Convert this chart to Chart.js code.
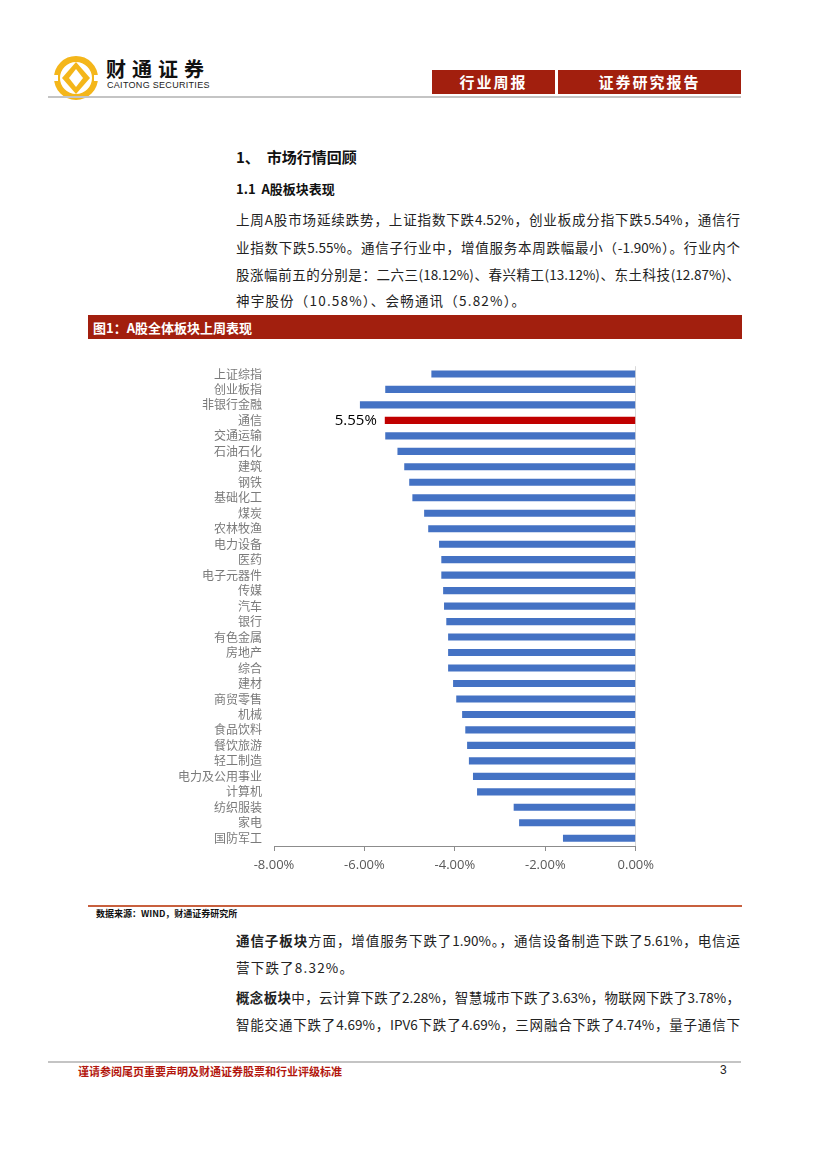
<!DOCTYPE html>
<html>
<head>
<meta charset="utf-8">
<script src="https://cdn.jsdelivr.net/npm/chart.js"></script>
<style>
  body { margin: 0; background: #fff; font-family: "Noto Sans CJK SC", "Noto Sans", sans-serif; }
  #page { position: relative; width: 827px; height: 1170px; overflow: hidden; }
  .abs { position: absolute; white-space: nowrap; }
  .hline { position: absolute; height: 2px; }
  .redbox { position: absolute; background: #a21f0e; color: #fff; font-weight: bold; font-size: 15px; text-align: center; line-height: 24px; letter-spacing: 2px; }
  .para { position: absolute; left: 236px; width: 504px; font-size: 13.5px; color: #222; line-height: 20px; }
  .just { text-align: justify; text-align-last: justify; }
</style>
</head>
<body>
<div id="page">
  <!-- header -->
  <svg class="abs" style="left:50px;top:53px" width="52" height="50" viewBox="0 0 52 50">
    <circle cx="26" cy="25" r="19" fill="none" stroke="#f4b61a" stroke-width="6"/>
    <path d="M26 9 L40 25 L26 41 L12 25 Z" fill="#f4b61a"/>
    <path d="M26 16 L33 25 L26 34 L19 25 Z" fill="#fff"/>
    <rect x="0" y="22" width="8" height="6" fill="#fff"/>
    <rect x="44" y="22" width="8" height="6" fill="#fff"/>
  </svg>
  <div class="abs" style="left:106px;top:57px;font-size:20px;line-height:24px;font-weight:bold;color:#111;letter-spacing:6px">财通证券</div>
  <div class="abs" style="left:107px;top:80px;font-size:9px;line-height:10px;color:#222;letter-spacing:0.3px;font-family:'Liberation Sans',sans-serif">CAITONG SECURITIES</div>
  <div class="redbox" style="left:432px;top:70px;width:123px;height:24px">行业周报</div>
  <div class="redbox" style="left:558px;top:70px;width:183px;height:24px">证券研究报告</div>
  <div class="hline" style="left:48px;top:96px;width:693px;background:#c4c4c4"></div>

  <!-- section text -->
  <div class="abs" style="left:236px;top:146px;font-size:15px;font-weight:bold;color:#111">1、&nbsp;&nbsp;市场行情回顾</div>
  <div class="abs" style="left:236px;top:179px;font-size:13px;font-weight:bold;color:#111">1.1&nbsp;&nbsp;A股板块表现</div>
  <div class="para just" style="top:209px">上周A股市场延续跌势，上证指数下跌4.52%，创业板成分指下跌5.54%，通信行</div>
  <div class="para just" style="top:237px">业指数下跌5.55%。通信子行业中，增值服务本周跌幅最小（-1.90%）。行业内个</div>
  <div class="para just" style="top:264px">股涨幅前五的分别是：二六三(18.12%)、春兴精工(13.12%)、东土科技(12.87%)、</div>
  <div class="para" style="top:290px;letter-spacing:1.2px">神宇股份（10.58%）、会畅通讯（5.82%）。</div>

  <!-- figure title -->
  <div class="abs" style="left:88px;top:315px;width:654px;height:24px;background:#a21f0e"></div>
  <div class="abs" style="left:93px;top:318px;font-size:13px;font-weight:bold;color:#fff">图1：A股全体板块上周表现</div>

  <!-- chart -->
  <div class="abs" style="left:150px;top:355px;width:510px;height:530px">
    <canvas id="mycanvas"></canvas>
  </div>

  <!-- source -->
  <div class="hline" style="left:88px;top:905px;width:654px;background:#c8603e"></div>
  <div class="abs" style="left:96px;top:907px;font-size:9px;font-weight:bold;color:#111">数据来源：WIND，财通证券研究所</div>

  <div class="para just" style="top:930px"><b>通信子板块</b>方面，增值服务下跌了1.90%。，通信设备制造下跌了5.61%，电信运</div>
  <div class="para" style="top:957px;letter-spacing:1.2px">营下跌了8.32%。</div>
  <div class="para just" style="top:987px"><b>概念板块</b>中，云计算下跌了2.28%，智慧城市下跌了3.63%，物联网下跌了3.78%，</div>
  <div class="para just" style="top:1014px">智能交通下跌了4.69%，IPV6下跌了4.69%，三网融合下跌了4.74%，量子通信下</div>

  <!-- footer -->
  <div class="hline" style="left:48px;top:1061px;width:693px;background:#c4c4c4"></div>
  <div class="abs" style="left:78px;top:1063px;font-size:11px;font-weight:bold;color:#b3170e">谨请参阅尾页重要声明及财通证券股票和行业评级标准</div>
  <div class="abs" style="left:720px;top:1063px;font-size:12px;color:#222;font-family:'Liberation Sans',sans-serif">3</div>
</div>

<script>
var sectors = ['上证综指', '创业板指', '非银行金融', '通信', '交通运输', '石油石化', '建筑', '钢铁', '基础化工', '煤炭',
    '农林牧渔', '电力设备', '医药', '电子元器件', '传媒', '汽车', '银行', '有色金属', '房地产', '综合',
    '建材', '商贸零售', '机械', '食品饮料', '餐饮旅游', '轻工制造', '电力及公用事业', '计算机', '纺织服装', '家电', '国防军工'];
var weeklyChange = [-4.52, -5.54, -6.10, -5.55, -5.54, -5.27, -5.12, -5.01, -4.94, -4.68,
    -4.59, -4.35, -4.30, -4.30, -4.26, -4.24, -4.19, -4.15, -4.15, -4.15,
    -4.04, -3.97, -3.84, -3.77, -3.73, -3.69, -3.60, -3.51, -2.70, -2.58, -1.61];
var highlightSector = '通信';
var xTicks = [-8, -6, -4, -2, 0];

var barColors = [];
for (var i in sectors) {
    barColors.push(sectors[i] === highlightSector ? '#c00000' : '#4472c4');
}

// label on the highlighted bar
var highlightLabel = {
    id: 'highlightLabel',
    afterDatasetsDraw: function (chart) {
        var idx = sectors.indexOf(highlightSector);
        var bar = chart.getDatasetMeta(0).data[idx];
        var ctx = chart.ctx;
        ctx.save();
        ctx.font = '15px "Open Sans", "Liberation Sans", sans-serif';
        ctx.fillStyle = '#000';
        ctx.textAlign = 'right';
        ctx.textBaseline = 'middle';
        ctx.fillText(Math.abs(weeklyChange[idx]).toFixed(2) + '%', bar.x - 8, bar.y);
        ctx.restore();
    }
};

var ctx = document.getElementById('mycanvas');
var barGraph = new Chart(ctx, {
    type: 'bar',
    data: {
        labels: sectors,
        datasets: [{
            data: weeklyChange,
            backgroundColor: barColors,
            categoryPercentage: 1,
            barPercentage: 0.46
        }]
    },
    options: {
        indexAxis: 'y',
        responsive: true,
        maintainAspectRatio: false,
        animation: false,
        layout: { padding: { top: 10, right: 23, left: 0, bottom: 0 } },
        plugins: { legend: { display: false }, tooltip: { enabled: false } },
        scales: {
            x: {
                min: xTicks[0],
                max: xTicks[xTicks.length - 1],
                afterBuildTicks: function (scale) {
                    scale.ticks = xTicks.map(function (v) { return { value: v }; });
                },
                afterFit: function (scale) { scale.height = 39; },
                border: { display: true, color: '#8c8c8c', width: 1 },
                grid: {
                    drawOnChartArea: true,
                    color: function (c) { return c.tick && c.tick.value === 0 ? '#d9d9d9' : 'rgba(0,0,0,0)'; },
                    tickColor: '#8c8c8c',
                    tickLength: 5
                },
                ticks: {
                    padding: 6,
                    color: '#595959',
                    font: { family: '"Open Sans", "Liberation Sans", sans-serif', size: 13 },
                    callback: function (v) { return v.toFixed(2) + '%'; }
                }
            },
            y: {
                afterFit: function (scale) { scale.width = 124; },
                border: { display: false },
                grid: { display: false },
                ticks: {
                    autoSkip: false,
                    padding: 4,
                    color: '#7a7a7a',
                    font: { family: '"Noto Sans CJK SC", sans-serif', size: 12 }
                }
            }
        }
    },
    plugins: [highlightLabel]
});
</script>
</body>
</html>
